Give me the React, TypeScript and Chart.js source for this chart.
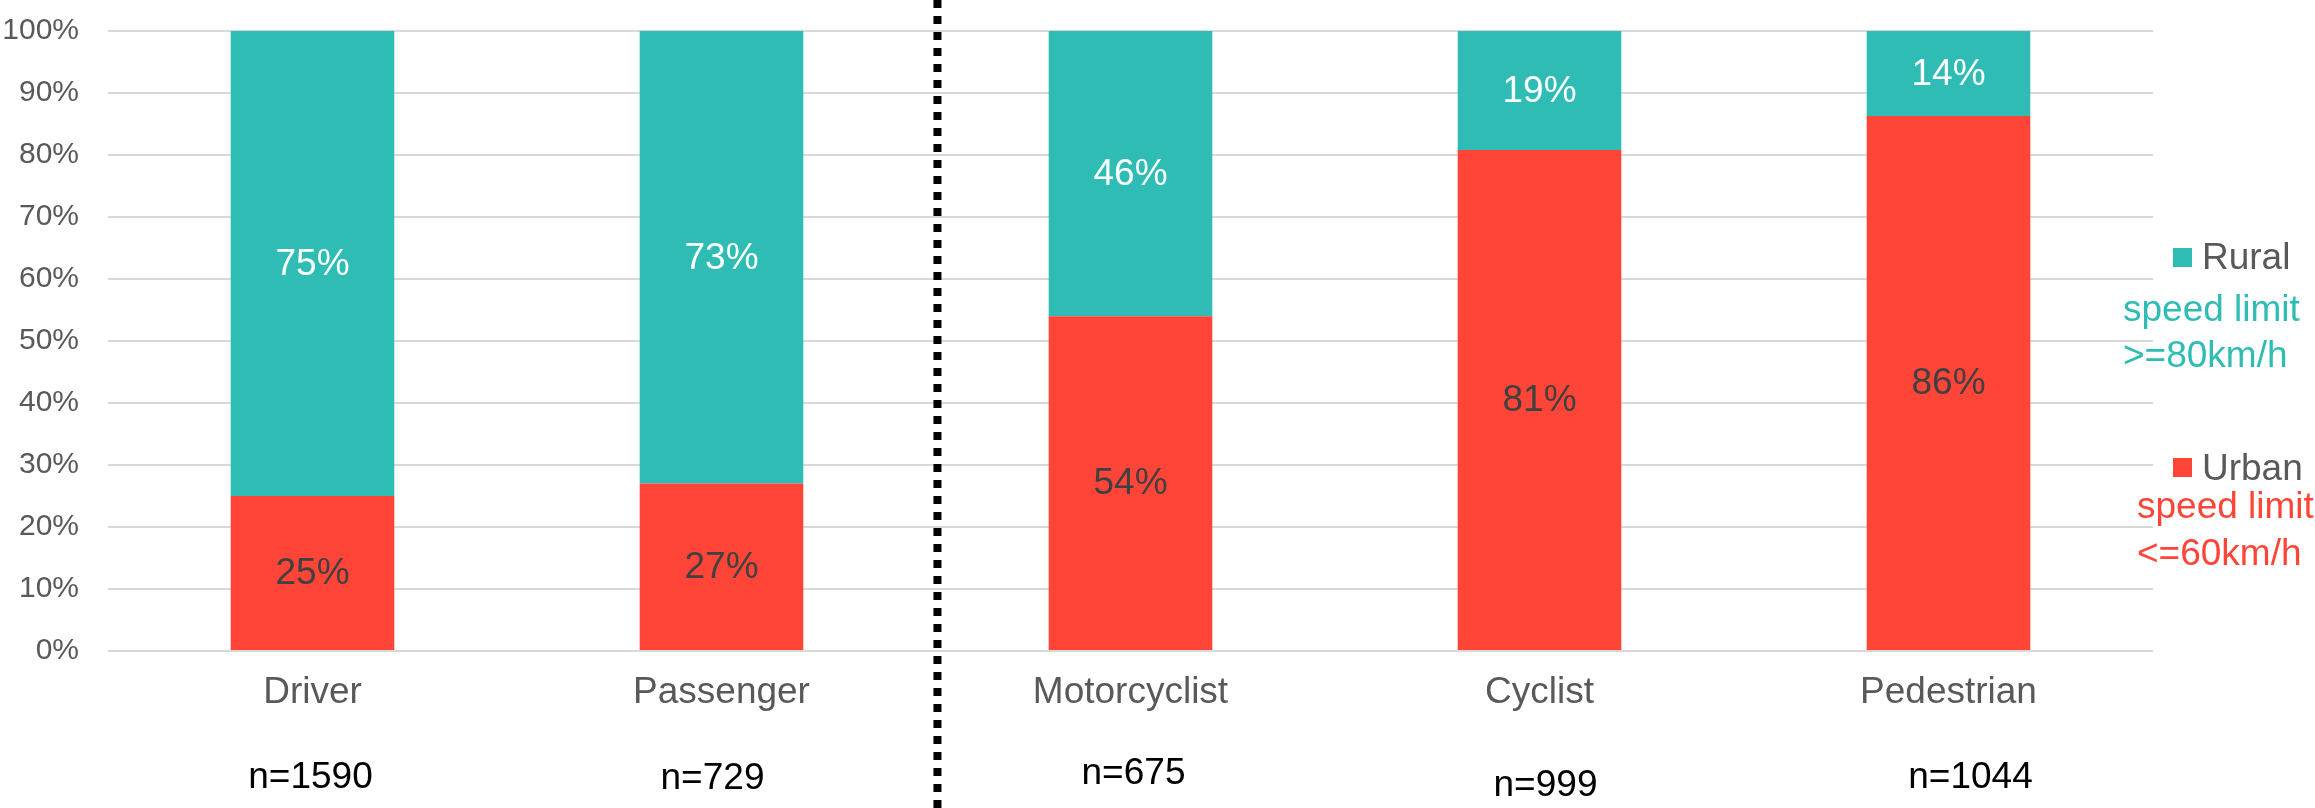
import React, { useEffect, useRef } from "react";
import { Chart, registerables } from "chart.js";

Chart.register(...registerables);

const categories = ["Driver", "Passenger", "Motorcyclist", "Cyclist", "Pedestrian"];
const urbanValues = [25, 27, 54, 80.8, 86.3];
const ruralValues = [75, 73, 46, 19.2, 13.7];
const sampleSizes = ["n=1590", "n=729", "n=675", "n=999", "n=1044"];
const yTicks = [0, 10, 20, 30, 40, 50, 60, 70, 80, 90, 100];

// layout (kept apart from the data)
const N_DX = [-2, -9, 3, 6, 22];
const N_BASELINE = [788, 789, 784, 796, 788];
const DIVIDER_AT = 1.528;

const TEAL = "#2EBCB5";
const RED = "#FF4538";
const GRAY = "#595959";
const FONT = '"Liberation Sans", Arial, sans-serif';

const overlayPlugin = {
  id: "overlay",
  afterDatasetsDraw(chart: any) {
    const ctx = chart.ctx;
    ctx.save();
    ctx.font = `37px ${FONT}`;
    ctx.textAlign = "center";
    ctx.textBaseline = "middle";
    chart.data.datasets.forEach((ds: any, di: number) => {
      const meta = chart.getDatasetMeta(di);
      meta.data.forEach((bar: any, i: number) => {
        const v = ds.data[i];
        ctx.fillStyle = di === 0 ? "#404040" : "#FFFFFF";
        ctx.fillText(Math.round(v) + "%", bar.x, (bar.y + bar.base) / 2 + 1);
      });
    });
    ctx.restore();
  },
  afterDraw(chart: any) {
    const ctx = chart.ctx;
    const xs = chart.scales.x;
    ctx.save();
    // dotted divider
    const dx = xs.getPixelForValue(DIVIDER_AT);
    ctx.strokeStyle = "#000";
    ctx.lineWidth = 8;
    ctx.setLineDash([8, 8]);
    ctx.beginPath();
    ctx.moveTo(dx, 0);
    ctx.lineTo(dx, chart.height);
    ctx.stroke();
    ctx.setLineDash([]);

    // sample sizes
    ctx.font = `37px ${FONT}`;
    ctx.fillStyle = "#000";
    ctx.textAlign = "center";
    ctx.textBaseline = "alphabetic";
    sampleSizes.forEach((t, i) => {
      ctx.fillText(t, xs.getPixelForValue(i) + N_DX[i], N_BASELINE[i]);
    });

    // legend
    const ds = chart.data.datasets;
    ctx.textAlign = "left";
    // Rural
    ctx.fillStyle = ds[1].backgroundColor;
    ctx.fillRect(2173, 248, 19, 19);
    ctx.fillStyle = GRAY;
    ctx.fillText(ds[1].label, 2202, 269);
    ctx.fillStyle = TEAL;
    ctx.fillText("speed limit", 2123, 321);
    ctx.fillText(">=80km/h", 2123, 367);
    // Urban
    ctx.fillStyle = ds[0].backgroundColor;
    ctx.fillRect(2173, 458, 19, 19);
    ctx.fillStyle = GRAY;
    ctx.fillText(ds[0].label, 2202, 480);
    ctx.fillStyle = RED;
    ctx.fillText("speed limit", 2137, 518);
    ctx.fillText("<=60km/h", 2137, 565);
    ctx.restore();
  },
};

export default function App() {
  const ref = useRef<HTMLCanvasElement | null>(null);
  useEffect(() => {
    if (!ref.current) return;
    const chart = new Chart(ref.current, {
      type: "bar",
      data: {
        labels: categories,
        datasets: [
          { label: "Urban", data: urbanValues, backgroundColor: RED, categoryPercentage: 0.8, barPercentage: 0.5 },
          { label: "Rural", data: ruralValues, backgroundColor: TEAL, categoryPercentage: 0.8, barPercentage: 0.5 },
        ],
      },
      options: {
        animation: false,
        responsive: false,
        devicePixelRatio: 1,
        layout: { padding: { left: 0, top: 31, right: 162, bottom: 0 } },
        plugins: { legend: { display: false }, tooltip: { enabled: false } },
        scales: {
          x: {
            stacked: true,
            grid: { display: false, drawTicks: false },
            border: { display: false },
            ticks: { color: GRAY, font: { family: FONT, size: 37 }, padding: 20 },
            afterFit: (s: any) => { s.height = 157; s.paddingLeft = 0; s.paddingRight = 0; },
          },
          y: {
            stacked: true,
            min: 0,
            max: 100,
            afterBuildTicks: (s: any) => { s.ticks = yTicks.map((v) => ({ value: v })); },
            grid: { color: "#D9D9D9", lineWidth: 2, drawTicks: false },
            border: { display: false },
            ticks: {
              color: GRAY,
              font: { family: FONT, size: 30 },
              padding: 29,
              callback: (v: any) => v + "%",
            },
            afterFit: (s: any) => { s.width = 108; s.paddingTop = 0; s.paddingBottom = 0; },
          },
        },
      },
      plugins: [overlayPlugin],
    });
    return () => chart.destroy();
  }, []);
  return (
    <div style={{ position: "absolute", left: 0, top: 0, width: 2315, height: 808, background: "#fff" }}>
      <canvas ref={ref} width={2315} height={808} />
    </div>
  );
}
